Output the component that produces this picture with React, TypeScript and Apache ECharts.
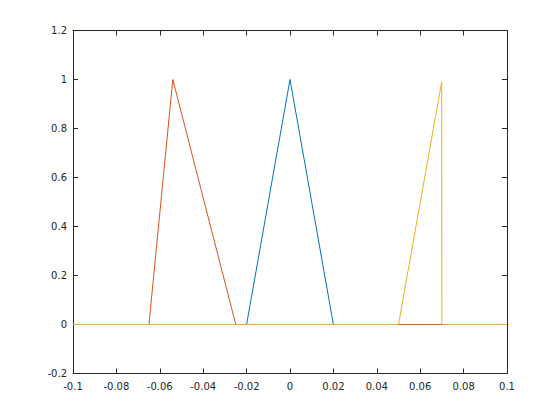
import React, { useEffect, useRef } from "react";
import * as echarts from "echarts";

const blueX = [-0.1, -0.02, 0, 0.02, 0.1];
const blueY = [0, 0, 1, 0, 0];
const redX = [-0.1, -0.065, -0.054, -0.025, 0.1];
const redY = [0, 0, 1, 0, 0];
const yellowX = [-0.1, 0.05, 0.0699, 0.07, 0.1];
const yellowY = [0, 0, 0.99, 0, 0];

const xTicks = [-0.1, -0.08, -0.06, -0.04, -0.02, 0, 0.02, 0.04, 0.06, 0.08, 0.1];
const yTicks = [-0.2, 0, 0.2, 0.4, 0.6, 0.8, 1, 1.2];

const pairs = (xs: number[], ys: number[]) => xs.map((x, i) => [x, ys[i]]);

export default function App() {
  const ref = useRef<HTMLDivElement>(null);
  useEffect(() => {
    const chart = echarts.init(ref.current!, null, { renderer: "svg" });
    const axisColor = "#262626";
    const labelStyle = { color: axisColor, fontFamily: "DejaVu Sans", fontSize: 10 };
    const fmtX = (v: number) => {
      const r = Math.round(v * 100) / 100;
      return xTicks.some((t) => Math.abs(t - r) < 1e-9) ? String(r) : "";
    };
    const fmtY = (v: number) => {
      const r = Math.round(v * 10) / 10;
      return yTicks.some((t) => Math.abs(t - r) < 1e-9) ? String(r) : "";
    };
    const xBase = {
      type: "value" as const,
      min: -0.1,
      max: 0.1,
      interval: 0.02,
      splitLine: { show: false },
      axisLine: { show: true, onZero: false, lineStyle: { color: axisColor, width: 1 } },
      axisTick: { show: true, inside: true, length: 5, lineStyle: { color: axisColor } },
    };
    const yBase = {
      type: "value" as const,
      min: -0.2,
      max: 1.2,
      interval: 0.2,
      splitLine: { show: false },
      axisLine: { show: true, onZero: false, lineStyle: { color: axisColor, width: 1 } },
      axisTick: { show: true, inside: true, length: 5, lineStyle: { color: axisColor } },
    };
    chart.setOption({
      animation: false,
      backgroundColor: "#ffffff",
      grid: { left: 73, right: 53, top: 30.5, bottom: 46.5 },
      xAxis: [
        { ...xBase, position: "bottom", axisLabel: { ...labelStyle, margin: 8, formatter: fmtX } },
        { ...xBase, position: "top", axisLabel: { show: false } },
      ],
      yAxis: [
        { ...yBase, position: "left", axisLabel: { ...labelStyle, margin: 6, formatter: fmtY } },
        { ...yBase, position: "right", axisLabel: { show: false } },
      ],
      series: [
        {
          type: "line",
          data: pairs(blueX, blueY),
          symbol: "none",
          lineStyle: { color: "#0072BD", width: 1 },
        },
        {
          type: "line",
          data: pairs(redX, redY),
          symbol: "none",
          lineStyle: { color: "#D95319", width: 1 },
        },
        {
          type: "line",
          data: pairs(yellowX, yellowY),
          symbol: "none",
          lineStyle: { color: "#EDB120", width: 1 },
        },
      ],
    });
    return () => chart.dispose();
  }, []);
  return (
    <div
      ref={ref}
      style={{ position: "fixed", left: 0, top: 0, width: 560, height: 420 }}
    />
  );
}
